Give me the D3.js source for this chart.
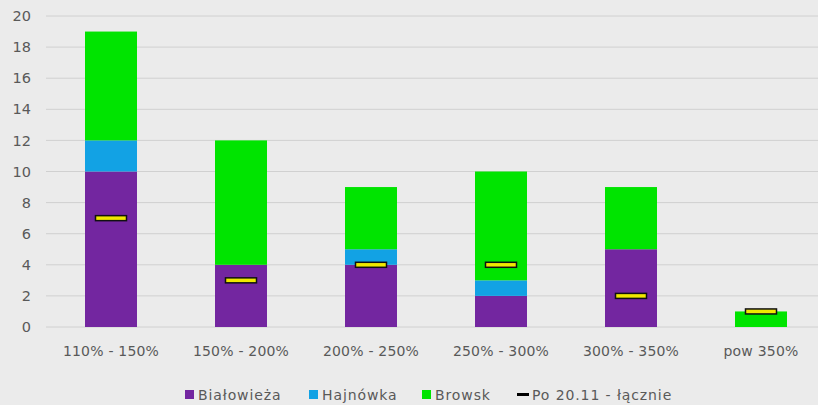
<!DOCTYPE html>
<html>
<head>
<meta charset="utf-8">
<script src="https://cdn.jsdelivr.net/npm/d3@7"></script>
<style>
  body { margin: 0; background: #ebebeb; }
  svg { display: block; font-family: "DejaVu Sans", sans-serif; }
</style>
</head>
<body>
<svg id="chart" width="818" height="405"></svg>
<script>
const categories = ["110% - 150%", "150% - 200%", "200% - 250%", "250% - 300%", "300% - 350%", "pow 350%"];
const bialowieza = [10, 4, 4, 2, 5, 0];
const hajnowka = [2, 0, 1, 1, 0, 0];
const browsk = [7, 8, 4, 7, 4, 1];
const po2011 = [7, 3, 4, 4, 2, 1];
const yTicks = [0, 2, 4, 6, 8, 10, 12, 14, 16, 18, 20];

const seriesNames = ["Białowieża", "Hajnówka", "Browsk"];
const colors = ["#7326a0", "#12a2e4", "#00e400"];

const WIDTH = 818;
const LEFT = 46;
const RIGHT = 826;
const TOP = 16;
const BOTTOM = 327;

const svg = d3.select("#chart");

const xScale = d3.scaleBand()
  .domain(categories)
  .range([LEFT, RIGHT])
  .paddingInner(0.6)
  .paddingOuter(0.3);

const yScale = d3.scaleLinear()
  .domain([0, 20])
  .range([BOTTOM, TOP]);

// grid lines
svg.append("g")
  .selectAll("line")
  .data(yTicks)
  .enter()
  .append("line")
  .attr("x1", LEFT)
  .attr("x2", WIDTH)
  .attr("y1", (d) => yScale(d))
  .attr("y2", (d) => yScale(d))
  .attr("stroke", "#d0d0d0")
  .attr("stroke-width", 1);

// y axis labels
const yAxis = d3.axisLeft(yScale).tickValues(yTicks).tickSize(0).tickPadding(15);
svg.append("g")
  .attr("transform", `translate(${LEFT}, 0)`)
  .call(yAxis)
  .call((g) => g.select(".domain").remove())
  .selectAll("text")
  .attr("fill", "#595959")
  .style("font-size", "14.5px")
  .style("font-family", "DejaVu Sans, sans-serif");

// stacked bars
const table = categories.map((c, i) => ({
  cat: c,
  "Białowieża": bialowieza[i],
  "Hajnówka": hajnowka[i],
  "Browsk": browsk[i],
}));
const stacked = d3.stack().keys(seriesNames)(table);

svg.append("g")
  .selectAll("g")
  .data(stacked)
  .enter()
  .append("g")
  .attr("fill", (d, i) => colors[i])
  .selectAll("rect")
  .data((d) => d)
  .enter()
  .append("rect")
  .attr("x", (d) => xScale(d.data.cat))
  .attr("width", xScale.bandwidth())
  .attr("y", (d) => yScale(d[1]))
  .attr("height", (d) => yScale(d[0]) - yScale(d[1]));

// markers "Po 20.11 - łącznie"
const MARK_W = 31;
const MARK_H = 5;
svg.append("g")
  .selectAll("rect")
  .data(po2011)
  .enter()
  .append("rect")
  .attr("x", (d, i) => xScale(categories[i]) + xScale.bandwidth() / 2 - MARK_W / 2)
  .attr("y", (d) => yScale(d) - MARK_H / 2)
  .attr("width", MARK_W)
  .attr("height", MARK_H)
  .attr("fill", "#f0e800")
  .attr("stroke", "#111")
  .attr("stroke-width", 1.5);

// x axis labels
const xAxis = d3.axisBottom(xScale).tickSize(0).tickPadding(19);
svg.append("g")
  .attr("transform", `translate(0, ${BOTTOM})`)
  .call(xAxis)
  .call((g) => g.select(".domain").remove())
  .selectAll("text")
  .attr("fill", "#595959")
  .style("font-size", "14px")
  .style("letter-spacing", "0.2px")
  .style("font-family", "DejaVu Sans, sans-serif");

// legend
const legendItems = [
  { name: "Białowieża", color: colors[0], type: "box", x: 185 },
  { name: "Hajnówka", color: colors[1], type: "box", x: 309 },
  { name: "Browsk", color: colors[2], type: "box", x: 422 },
  { name: "Po 20.11 - łącznie", color: "#000", type: "line", x: 517 },
];
const legend = svg.append("g").attr("transform", "translate(0, 394)");
legendItems.forEach((item) => {
  if (item.type === "box") {
    legend.append("rect")
      .attr("x", item.x)
      .attr("y", -4)
      .attr("width", 9)
      .attr("height", 9)
      .attr("fill", item.color);
  } else {
    legend.append("rect")
      .attr("x", item.x)
      .attr("y", -1)
      .attr("width", 12)
      .attr("height", 3)
      .attr("fill", item.color);
  }
  legend.append("text")
    .attr("x", item.type === "box" ? item.x + 13 : item.x + 15)
    .attr("y", 6)
    .text(item.name)
    .attr("fill", "#595959")
    .style("font-size", "14px")
    .style("letter-spacing", "0.9px");
});
</script>
</body>
</html>
